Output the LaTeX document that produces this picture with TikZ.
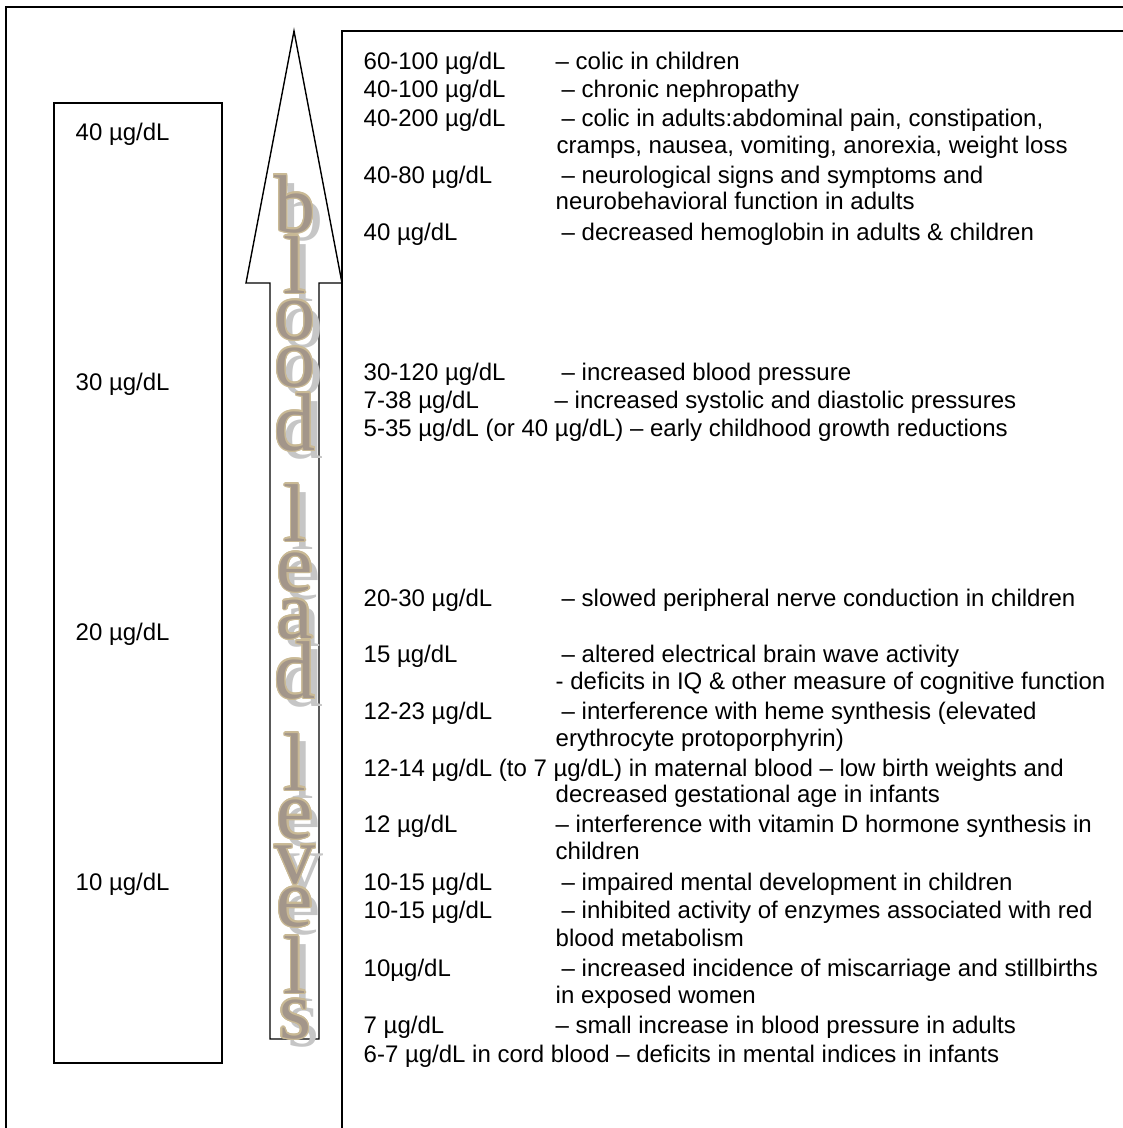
\documentclass[tikz,border=0pt]{standalone}
\usepackage{fontspec}
\setmainfont{Liberation Sans}
\newfontfamily\wafont{Liberation Serif}
\usepackage[copies]{contour}
\contourlength{1.4pt}
\definecolor{wafill}{HTML}{A3968A}
\definecolor{waline}{HTML}{C9B995}
\definecolor{washadow}{HTML}{C6C6C6}
\begin{document}
\begin{tikzpicture}[x=1pt,y=-1pt,line width=1.4pt,
  txt/.style={anchor=base west,inner sep=0pt,font=\fontsize{24}{28}\selectfont},
  wl/.style={anchor=base,inner sep=0pt,font=\fontsize{82}{82}\wafont}]
\useasboundingbox (0,0) rectangle (1123,1128);
\clip (0,0) rectangle (1123,1128);
% frames
\draw (6,1140) -- (6,7) -- (1140,7);
\draw (342,1140) -- (342,31) -- (1140,31);
\draw (54,103) rectangle (222,1063);
% arrow
\draw (294,31) -- (342,283) -- (319,283) -- (319,1039) -- (270,1039) -- (270,283) -- (246,283) -- cycle;
% word art letters
\foreach \ch/\yy [count=\i] in {b/232,l/293,o/339,o/386,d/450,l/541,e/591,a/638,d/698,l/790,e/838,v/883,e/926,l/993,s/1038}{
  \node[wl,text=washadow] (sh\i) at (303,\yy+8) {\ch};
  \node[wl] (ch\i) at (295,\yy) {\contour{waline}{\textcolor{wafill}{\ch}}};
}
% left scale
\node[txt] (s40) at (75,140) {40 µg/dL};
\node[txt] (s30) at (75,390) {30 µg/dL};
\node[txt] (s20) at (75,640) {20 µg/dL};
\node[txt] (s10) at (75,890) {10 µg/dL};
% right text
\node[txt] (a1) at (363,69) {60-100 µg/dL};
\node[txt] (b1) at (555,69) {– colic in children};
\node[txt] (a2) at (363,97) {40-100 µg/dL};
\node[txt] (b2) at (561,97) {– chronic nephropathy};
\node[txt] (a3) at (363,126) {40-200 µg/dL};
\node[txt] (b3) at (561,126) {– colic in adults:abdominal pain, constipation,};
\node[txt] (c3) at (556,153) {cramps, nausea, vomiting, anorexia, weight loss};
\node[txt] (a4) at (363,183) {40-80 µg/dL};
\node[txt] (b4) at (561,183) {– neurological signs and symptoms and};
\node[txt] (c4) at (555,209) {neurobehavioral function in adults};
\node[txt] (a5) at (363,240) {40 µg/dL};
\node[txt] (b5) at (561,240) {– decreased hemoglobin in adults \& children};
\node[txt] (a6) at (363,380) {30-120 µg/dL};
\node[txt] (b6) at (561,380) {– increased blood pressure};
\node[txt] (a7) at (363,408) {7-38 µg/dL};
\node[txt] (b7) at (554,408) {– increased systolic and diastolic pressures};
\node[txt] (a8) at (363,436) {5-35 µg/dL (or 40 µg/dL) – early childhood growth reductions};
\node[txt] (a9) at (363,606) {20-30 µg/dL};
\node[txt] (b9) at (561,606) {– slowed peripheral nerve conduction in children};
\node[txt] (a10) at (363,662) {15 µg/dL};
\node[txt] (b10) at (561,662) {– altered electrical brain wave activity};
\node[txt] (c10) at (555,689) {- deficits in IQ \& other measure of cognitive function};
\node[txt] (a11) at (363,719) {12-23 µg/dL};
\node[txt] (b11) at (561,719) {– interference with heme synthesis (elevated};
\node[txt] (c11) at (555,746) {erythrocyte protoporphyrin)};
\node[txt] (a12) at (363,776) {12-14 µg/dL (to 7 µg/dL) in maternal blood – low birth weights and};
\node[txt] (c12) at (555,802) {decreased gestational age in infants};
\node[txt] (a13) at (363,832) {12 µg/dL};
\node[txt] (b13) at (555,832) {– interference with vitamin D hormone synthesis in};
\node[txt] (c13) at (555,859) {children};
\node[txt] (a14) at (363,890) {10-15 µg/dL};
\node[txt] (b14) at (561,890) {– impaired mental development in children};
\node[txt] (a15) at (363,918) {10-15 µg/dL};
\node[txt] (b15) at (561,918) {– inhibited activity of enzymes associated with red};
\node[txt] (c15) at (555,946) {blood metabolism};
\node[txt] (a16) at (363,976) {10µg/dL};
\node[txt] (b16) at (561,976) {– increased incidence of miscarriage and stillbirths};
\node[txt] (c16) at (555,1003) {in exposed women};
\node[txt] (a17) at (363,1033) {7 µg/dL};
\node[txt] (b17) at (555,1033) {– small increase in blood pressure in adults};
\node[txt] (a18) at (363,1062) {6-7 µg/dL in cord blood – deficits in mental indices in infants};
\end{tikzpicture}
\end{document}
